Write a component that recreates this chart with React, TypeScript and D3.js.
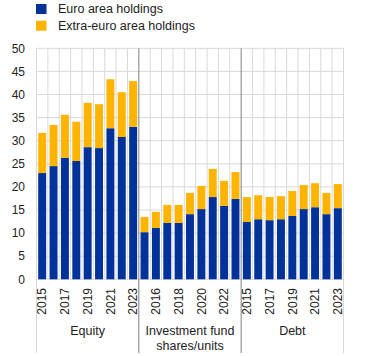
import React from "react";
import * as d3 from "d3";

const groups = ["Equity", "Investment fund|shares/units", "Debt"];
const years = ["2015", "2016", "2017", "2018", "2019", "2020", "2021", "2022", "2023"];
const euroEquity = [23.0, 24.5, 26.3, 25.6, 28.6, 28.4, 32.7, 30.8, 33.0];
const extraEquity = [8.7, 8.9, 9.3, 8.5, 9.6, 9.5, 10.6, 9.7, 9.9];
const euroFund = [10.2, 11.1, 12.2, 12.2, 14.1, 15.2, 17.8, 15.9, 17.4];
const extraFund = [3.3, 3.5, 3.9, 3.9, 4.6, 5.0, 6.1, 5.4, 5.8];
const euroDebt = [12.4, 13.0, 12.8, 13.0, 13.7, 15.2, 15.6, 14.1, 15.4];
const extraDebt = [5.4, 5.2, 5.0, 5.0, 5.4, 5.2, 5.2, 4.6, 5.2];
const yTicks = [0, 5, 10, 15, 20, 25, 30, 35, 40, 45, 50];
const seriesNames = ["Euro area holdings", "Extra-euro area holdings"];
const colors = ["#003299", "#FFB400"];

const FONT = "'Liberation Sans', Arial, sans-serif";

export default function App() {
  const euroAll = [euroEquity, euroFund, euroDebt];
  const extraAll = [extraEquity, extraFund, extraDebt];
  const rows = groups.flatMap((g, gi) =>
    years.map((y, yi) => ({
      key: `${gi}-${y}`,
      gi,
      yi,
      year: y,
      euro: euroAll[gi][yi],
      extra: extraAll[gi][yi],
    }))
  );

  const left = 36.5, right = 343.5, top = 48.3, bottom = 279.3;
  const x = d3.scaleBand<string>().domain(rows.map((r) => r.key)).range([left, right]).paddingInner(0.3).paddingOuter(0.15);
  const step = (right - left) / rows.length;
  const y = d3.scaleLinear().domain([0, 50]).range([bottom, top]);

  const stack = d3.stack<any>().keys(["euro", "extra"])(rows as any);

  const groupW = step * years.length;

  return (
    <svg width={372} height={356} style={{ position: "absolute", left: 0, top: 0 }} fontFamily={FONT}>
      {/* legend */}
      {seriesNames.map((n, i) => (
        <g key={n}>
          <rect x={36} y={4 + i * 16.7} width={10.5} height={10} fill={colors[i]} />
          <text x={58} y={12.8 + i * 16.7} fontSize={12.5} fill="#222">{n}</text>
        </g>
      ))}
      {/* horizontal grid */}
      {yTicks.map((t) => (
        <g key={t}>
          <line x1={left} x2={right} y1={y(t)} y2={y(t)} stroke="#d9d9d9" strokeWidth={1} />
          <text x={25} y={y(t)} dy="0.35em" textAnchor="end" fontSize={12} fill="#222">{t}</text>
        </g>
      ))}
      {/* vertical grid */}
      {d3.range(rows.length + 1).map((i) => {
        const xx = left + i * step;
        const isGroup = i % years.length === 0;
        const isOuter = i === 0 || i === rows.length;
        return (
          <line
            key={i}
            x1={xx}
            x2={xx}
            y1={top}
            y2={isGroup ? 353 : bottom}
            stroke={isGroup && !isOuter ? "#808080" : "#d9d9d9"}
            strokeWidth={1}
          />
        );
      })}
      {/* bars */}
      {stack.map((s, si) => (
        <g key={si} fill={colors[si]}>
          {s.map((d: any) => (
            <rect
              key={d.data.key}
              x={x(d.data.key)}
              width={x.bandwidth()}
              y={y(d[1])}
              height={y(d[0]) - y(d[1])}
            />
          ))}
        </g>
      ))}
      {/* x labels */}
      {rows.map((r, i) =>
        i % 2 === 0 ? (
          <text
            key={r.key}
            transform={`translate(${(x(r.key) as number) + x.bandwidth() / 2},288) rotate(-90)`}
            textAnchor="end"
            dy="0.35em"
            fontSize={12}
            fill="#222"
          >
            {r.year}
          </text>
        ) : null
      )}
      {/* group labels */}
      {groups.map((g, gi) => {
        const cx = left + groupW * gi + groupW / 2;
        const lines = g.split("|");
        return lines.map((ln, li) => (
          <text key={gi + "-" + li} x={cx} y={335 + li * 15} textAnchor="middle" fontSize={12.5} fill="#222">
            {ln}
          </text>
        ));
      })}
    </svg>
  );
}
